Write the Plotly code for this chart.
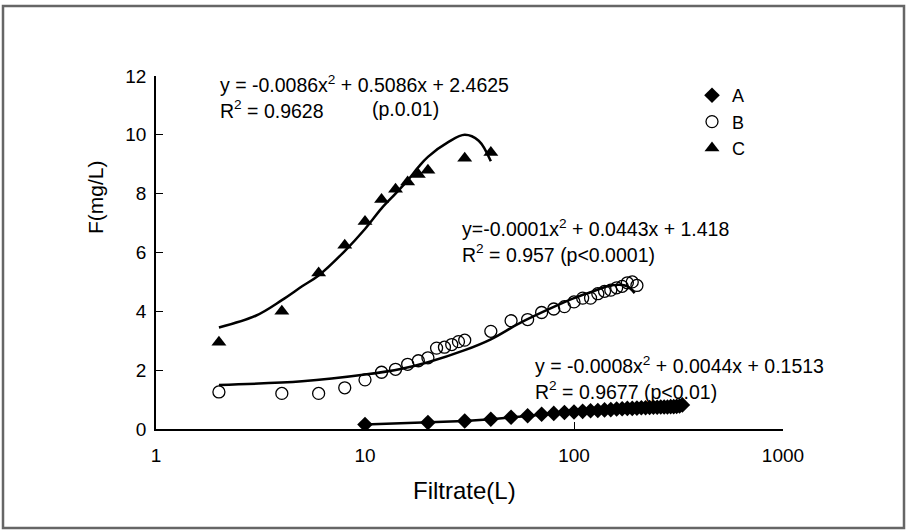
import plotly.graph_objects as go

FONT = "Liberation Sans, Arial, sans-serif"

# Series A (diamonds)
a_x = [10, 20, 30, 40, 50, 60, 70, 80, 90, 100, 110, 120, 130, 140, 150, 160, 170,
       180, 190, 200, 210, 220, 230, 240, 250, 260, 270, 280, 290, 300, 310, 320, 330]
a_y = [0.15, 0.22, 0.27, 0.33, 0.40, 0.45, 0.50, 0.53, 0.56, 0.58, 0.60, 0.62, 0.63,
       0.65, 0.66, 0.68, 0.69, 0.70, 0.70, 0.71, 0.72, 0.72, 0.73, 0.74, 0.74, 0.75,
       0.75, 0.75, 0.76, 0.76, 0.77, 0.78, 0.82]

# Series B (open circles)
b_x = [2, 4, 6, 8, 10, 12, 14, 16, 18, 20, 22, 24, 26, 28, 30,
       40, 50, 60, 70, 80, 90, 100, 110, 120, 130, 140, 150, 160, 170, 180, 190, 200]
b_y = [1.26, 1.21, 1.21, 1.40, 1.67, 1.93, 2.03, 2.20, 2.32, 2.42, 2.75, 2.78, 2.87,
       2.97, 3.02, 3.32, 3.68, 3.72, 3.96, 4.08, 4.16, 4.32, 4.45, 4.45, 4.60, 4.68,
       4.72, 4.80, 4.85, 4.97, 5.00, 4.88]

# Series C (triangles)
c_x = [2, 4, 6, 8, 10, 12, 14, 16, 18, 20, 30, 40]
c_y = [2.95, 4.0, 5.3, 6.25, 7.05, 7.8, 8.15, 8.4, 8.65, 8.8, 9.2, 9.4]

# Trend curves
b_fit_x = [2, 5, 10, 15, 20, 30, 40, 55, 80, 100, 120, 145, 165, 180, 195]
b_fit_y = [1.5, 1.62, 1.85, 2.05, 2.27, 2.68, 3.05, 3.6, 4.15, 4.45, 4.65, 4.85, 4.9, 4.85, 4.62]
c_fit_x = [2, 3, 4, 5, 6, 8, 10, 12, 14, 16, 18, 20, 25, 30, 35, 40]
c_fit_y = [3.45, 3.85, 4.38, 4.85, 5.22, 6.05, 6.8, 7.5, 8.0, 8.45, 8.9, 9.25, 9.75, 10.0, 9.8, 9.1]

x_ticks = [1, 10, 100, 1000]
x_tick_text = ["1", "10", "100", "1000"]
y_ticks = [0, 2, 4, 6, 8, 10, 12]

fig = go.Figure()

# lines (no legend)
fig.add_trace(go.Scatter(x=a_x, y=a_y, mode="lines", line=dict(color="black", width=2.5),
                         showlegend=False, hoverinfo="skip"))
fig.add_trace(go.Scatter(x=b_fit_x, y=b_fit_y, mode="lines",
                         line=dict(color="black", width=2.5, shape="spline", smoothing=1),
                         showlegend=False, hoverinfo="skip"))
fig.add_trace(go.Scatter(x=c_fit_x, y=c_fit_y, mode="lines",
                         line=dict(color="black", width=2.5, shape="spline", smoothing=1),
                         showlegend=False, hoverinfo="skip"))

# markers (legend)
fig.add_trace(go.Scatter(x=a_x, y=a_y, mode="markers", name="A",
                         marker=dict(symbol="diamond", size=12, color="black")))
fig.add_trace(go.Scatter(x=b_x, y=b_y, mode="markers", name="B",
                         marker=dict(symbol="circle-open", size=12, color="black",
                                     line=dict(width=1.3, color="black"))))
fig.add_trace(go.Scatter(x=c_x, y=c_y, mode="markers", name="C",
                         marker=dict(symbol="triangle-up", size=13, color="black")))

L, R, T, B = 156, 123, 76, 101
W, H = 906, 530
PW, PH = W - L - R, H - T - B


def px(x):
    return (x - L) / PW


def py(y):
    return (H - B - y) / PH


ann = []


def text(s, x, y, size=19, anchor="left", angle=0):
    ann.append(dict(text=s, x=px(x), y=py(y), xref="paper", yref="paper",
                    xanchor=anchor, yanchor="middle", showarrow=False, align="left",
                    textangle=angle, font=dict(family=FONT, size=size, color="black")))


text("y = -0.0086x<sup>2</sup> + 0.5086x + 2.4625<br>R<sup>2</sup> = 0.9628", 218, 97, size=19.5)
text("(p.0.01)", 370, 109, size=19.5)
text("y=-0.0001x<sup>2</sup> + 0.0443x + 1.418<br>R<sup>2</sup> = 0.957 (p<0.0001)", 460, 241, size=19.5)
text("y = -0.0008x<sup>2</sup> + 0.0044x + 0.1513<br>R<sup>2</sup> = 0.9677 (p<0.01)", 533, 378, size=19.5)
text("F(mg/L)", 95, 197, size=21, anchor="center", angle=-90)
text("Filtrate(L)", 464, 490, size=24, anchor="center")

fig.update_layout(
    width=W, height=H,
    margin=dict(l=L, r=R, t=T, b=B, pad=0),
    paper_bgcolor="white", plot_bgcolor="white",
    font=dict(family=FONT, size=19, color="black"),
    annotations=ann,
    legend=dict(x=px(692), y=py(77), xanchor="left", yanchor="top",
                font=dict(family=FONT, size=18), bgcolor="rgba(0,0,0,0)",
                itemwidth=30),
    shapes=[dict(type="rect", xref="paper", yref="paper",
                 x0=px(3), x1=px(904), y0=py(528), y1=py(6),
                 line=dict(color="#666666", width=2.5), fillcolor="rgba(0,0,0,0)", layer="below")],
    xaxis=dict(type="log", range=[0, 3], tickvals=x_ticks, ticktext=x_tick_text,
               showline=True, linecolor="black", linewidth=1.5, mirror=False,
               ticks="inside", ticklen=7, tickwidth=1.2, tickcolor="black",
               showgrid=False, zeroline=False, ticklabelstandoff=8,
               tickfont=dict(family=FONT, size=19)),
    yaxis=dict(range=[0, 12], tickvals=y_ticks,
               showline=True, linecolor="black", linewidth=1.5, mirror=False,
               ticks="inside", ticklen=7, tickwidth=1.2, tickcolor="black",
               showgrid=False, zeroline=False, ticklabelstandoff=4,
               tickfont=dict(family=FONT, size=19)),
)

fig.write_html("out.html", config={"displayModeBar": False},
               post_script="document.body.style.margin='0px';document.body.style.overflow='hidden';")
